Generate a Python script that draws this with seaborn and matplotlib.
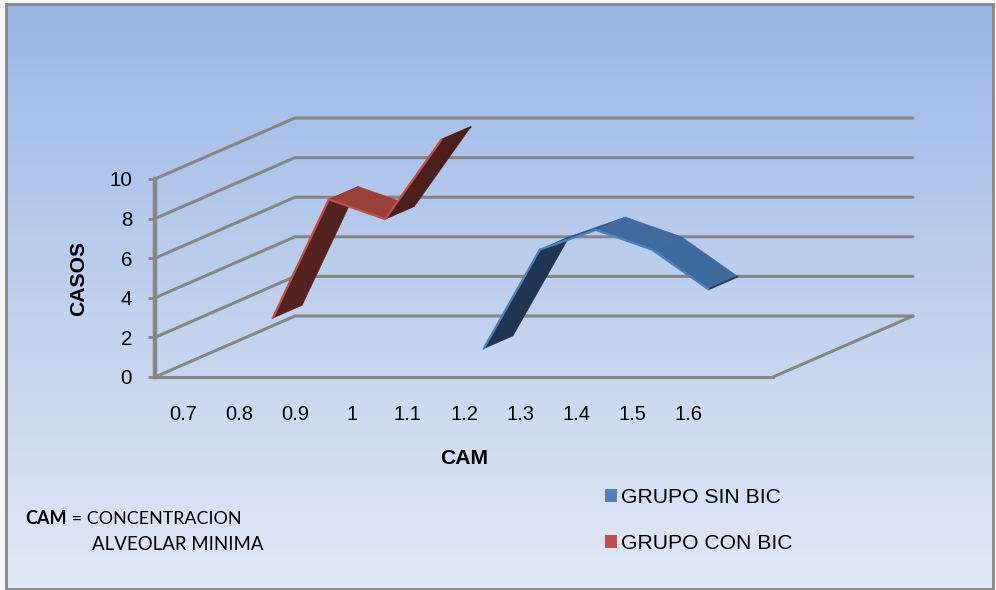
import numpy as np
import pandas as pd
import matplotlib
matplotlib.use("Agg")
import matplotlib.pyplot as plt
from matplotlib.colors import LinearSegmentedColormap
from matplotlib.patches import Patch, Rectangle
import seaborn as sns

# Minimum alveolar concentration categories (the last slot on the axis is empty)
cam_labels = ["0.7", "0.8", "0.9", "1", "1.1", "1.2", "1.3", "1.4", "1.5", "1.6", ""]
grupo_sin_bic = [np.nan, np.nan, np.nan, np.nan, np.nan, 1, 6, 7, 6, 4, np.nan]
grupo_con_bic = [1, 7, 6, 10, np.nan, np.nan, np.nan, np.nan, np.nan, np.nan, np.nan]
value_ticks = [0, 2, 4, 6, 8, 10]

W, H = 996, 590
GRID = "#868686"

# Oblique projection: a unit of depth shifts a point right and upwards, in data units
DEPTH_X = 140 / 56.18
DEPTH_Y = 61 / 19.8
RIBBON_DEPTH = 0.21


def project(x, y, z):
    return np.asarray(x, float) + z * DEPTH_X, np.asarray(y, float) + z * DEPTH_Y


sns.set_theme(style="white")
plt.rcParams["font.family"] = ["Liberation Sans", "DejaVu Sans"]

fig = plt.figure(figsize=(W / 100, H / 100), dpi=100, facecolor="#f6f6f6")

# Chart area background: vertical blue gradient inside a grey frame
bg = fig.add_axes([6 / W, 1 - 589 / H, 987 / W, 585 / H], zorder=0)
bg.set_axis_off()
cmap = LinearSegmentedColormap.from_list(
    "area", [(0, "#9bb6e3"), (0.25, "#adc3ea"), (0.55, "#c3d3ee"), (1, "#e2e8f6")]
)
bg.imshow(np.linspace(0, 1, 256).reshape(-1, 1), aspect="auto", cmap=cmap,
          extent=[0, 1, 0, 1], origin="upper")
fig.add_artist(Rectangle((6 / W, 1 - 589 / H), 987 / W, 585 / H,
                         transform=fig.transFigure, fill=False,
                         edgecolor=GRID, linewidth=2))

ax = fig.add_axes([155 / W, 1 - 377 / H, 618 / W, 198 / H], zorder=1)
ax.patch.set_alpha(0)
n = len(cam_labels)
x_pos = np.arange(n)
ax.set_xlim(-0.5, n - 0.5)
ax.set_ylim(0, 10)

# Floor and back-wall gridlines
for v in value_ticks:
    xs, ys = project([-0.5, -0.5, n - 0.5], [v, v, v], np.array([0, 1, 1]))
    ax.plot(xs, ys, color=GRID, lw=2.2, clip_on=False, zorder=1, solid_joinstyle="miter")
xs, ys = project([n - 0.5, n - 0.5], [0, 0], np.array([0, 1]))
ax.plot(xs, ys, color=GRID, lw=2.2, clip_on=False, zorder=1)


def draw_ribbon(values, z0, face_colors, line_color, cap_color, label):
    vals = np.asarray(values, float)
    idx = x_pos[~np.isnan(vals)]
    y = vals[idx]
    fx, fy = project(idx, y, z0)
    bx, by = project(idx, y, z0 + RIBBON_DEPTH)
    for i, face in enumerate(face_colors):
        ax.fill([fx[i], fx[i + 1], bx[i + 1], bx[i]],
                [fy[i], fy[i + 1], by[i + 1], by[i]],
                facecolor=face, edgecolor=face, lw=0.4, clip_on=False, zorder=3)
    ax.plot([fx[-1], bx[-1]], [fy[-1], by[-1]], color=cap_color, lw=1.4,
            clip_on=False, zorder=3)
    edge = pd.DataFrame({"x": fx, "y": fy, "grupo": label})
    sns.lineplot(data=edge, x="x", y="y", color=line_color, lw=1.6, sort=False,
                 estimator=None, legend=False, ax=ax, clip_on=False, zorder=4)


draw_ribbon(grupo_con_bic, 0.64, ["#55231f", "#9c403b", "#4d1f1c"],
            "#c0504d", "#4d1f1c", "GRUPO CON BIC")
draw_ribbon(grupo_sin_bic, 0.14, ["#1f3552", "#2f5580", "#416b9f", "#3f6a9e"],
            "#4f81bd", "#2a4060", "GRUPO SIN BIC")

# Axes furniture
for side in ("top", "right"):
    ax.spines[side].set_visible(False)
ax.spines["left"].set_color(GRID)
ax.spines["left"].set_linewidth(3.2)
ax.spines["bottom"].set_color(GRID)
ax.spines["bottom"].set_linewidth(2.2)
ax.set_yticks(value_ticks)
ax.set_xticks(x_pos[:-1], cam_labels[:-1])
ax.tick_params(axis="y", length=5, width=2, color=GRID, labelsize=14.8,
               labelcolor="black", pad=11.5, left=True)
ax.tick_params(axis="x", length=0, labelsize=14.5, labelcolor="black", pad=20)
ax.set_xlabel("CAM", fontsize=15.2, fontweight="bold", color="black", labelpad=18.5)
ax.set_ylabel("CASOS", fontsize=15.2, fontweight="bold", color="black", labelpad=15)

# Legend with square colour keys
handles = [Patch(facecolor="#4f81bd", edgecolor="none", label="GRUPO SIN BIC"),
           Patch(facecolor="#c0504d", edgecolor="none", label="GRUPO CON BIC")]
leg = fig.legend(handles=handles, loc="upper left",
                 bbox_to_anchor=(605 / W, 1 - 488 / H), frameon=False,
                 fontsize=15.2, handlelength=0.55, handleheight=0.55,
                 handletextpad=0.2, labelspacing=1.28, labelcolor="black",
                 borderpad=0, borderaxespad=0)

# Footnote explaining the abbreviation
note_font = ["Lato", "DejaVu Sans"]
fig.text(25 / W, 1 - 519 / H, "CAM", family=note_font, fontsize=13,
         fontweight="bold", color="black", va="center")
fig.text(67 / W, 1 - 519 / H, " = CONCENTRACION", family=note_font, fontsize=12.9,
         color="black", va="center")
fig.text(92 / W, 1 - 545 / H, "ALVEOLAR MINIMA", family=note_font, fontsize=13.4,
         color="black", va="center")

fig.savefig("out.png", dpi=100, facecolor=fig.get_facecolor())
